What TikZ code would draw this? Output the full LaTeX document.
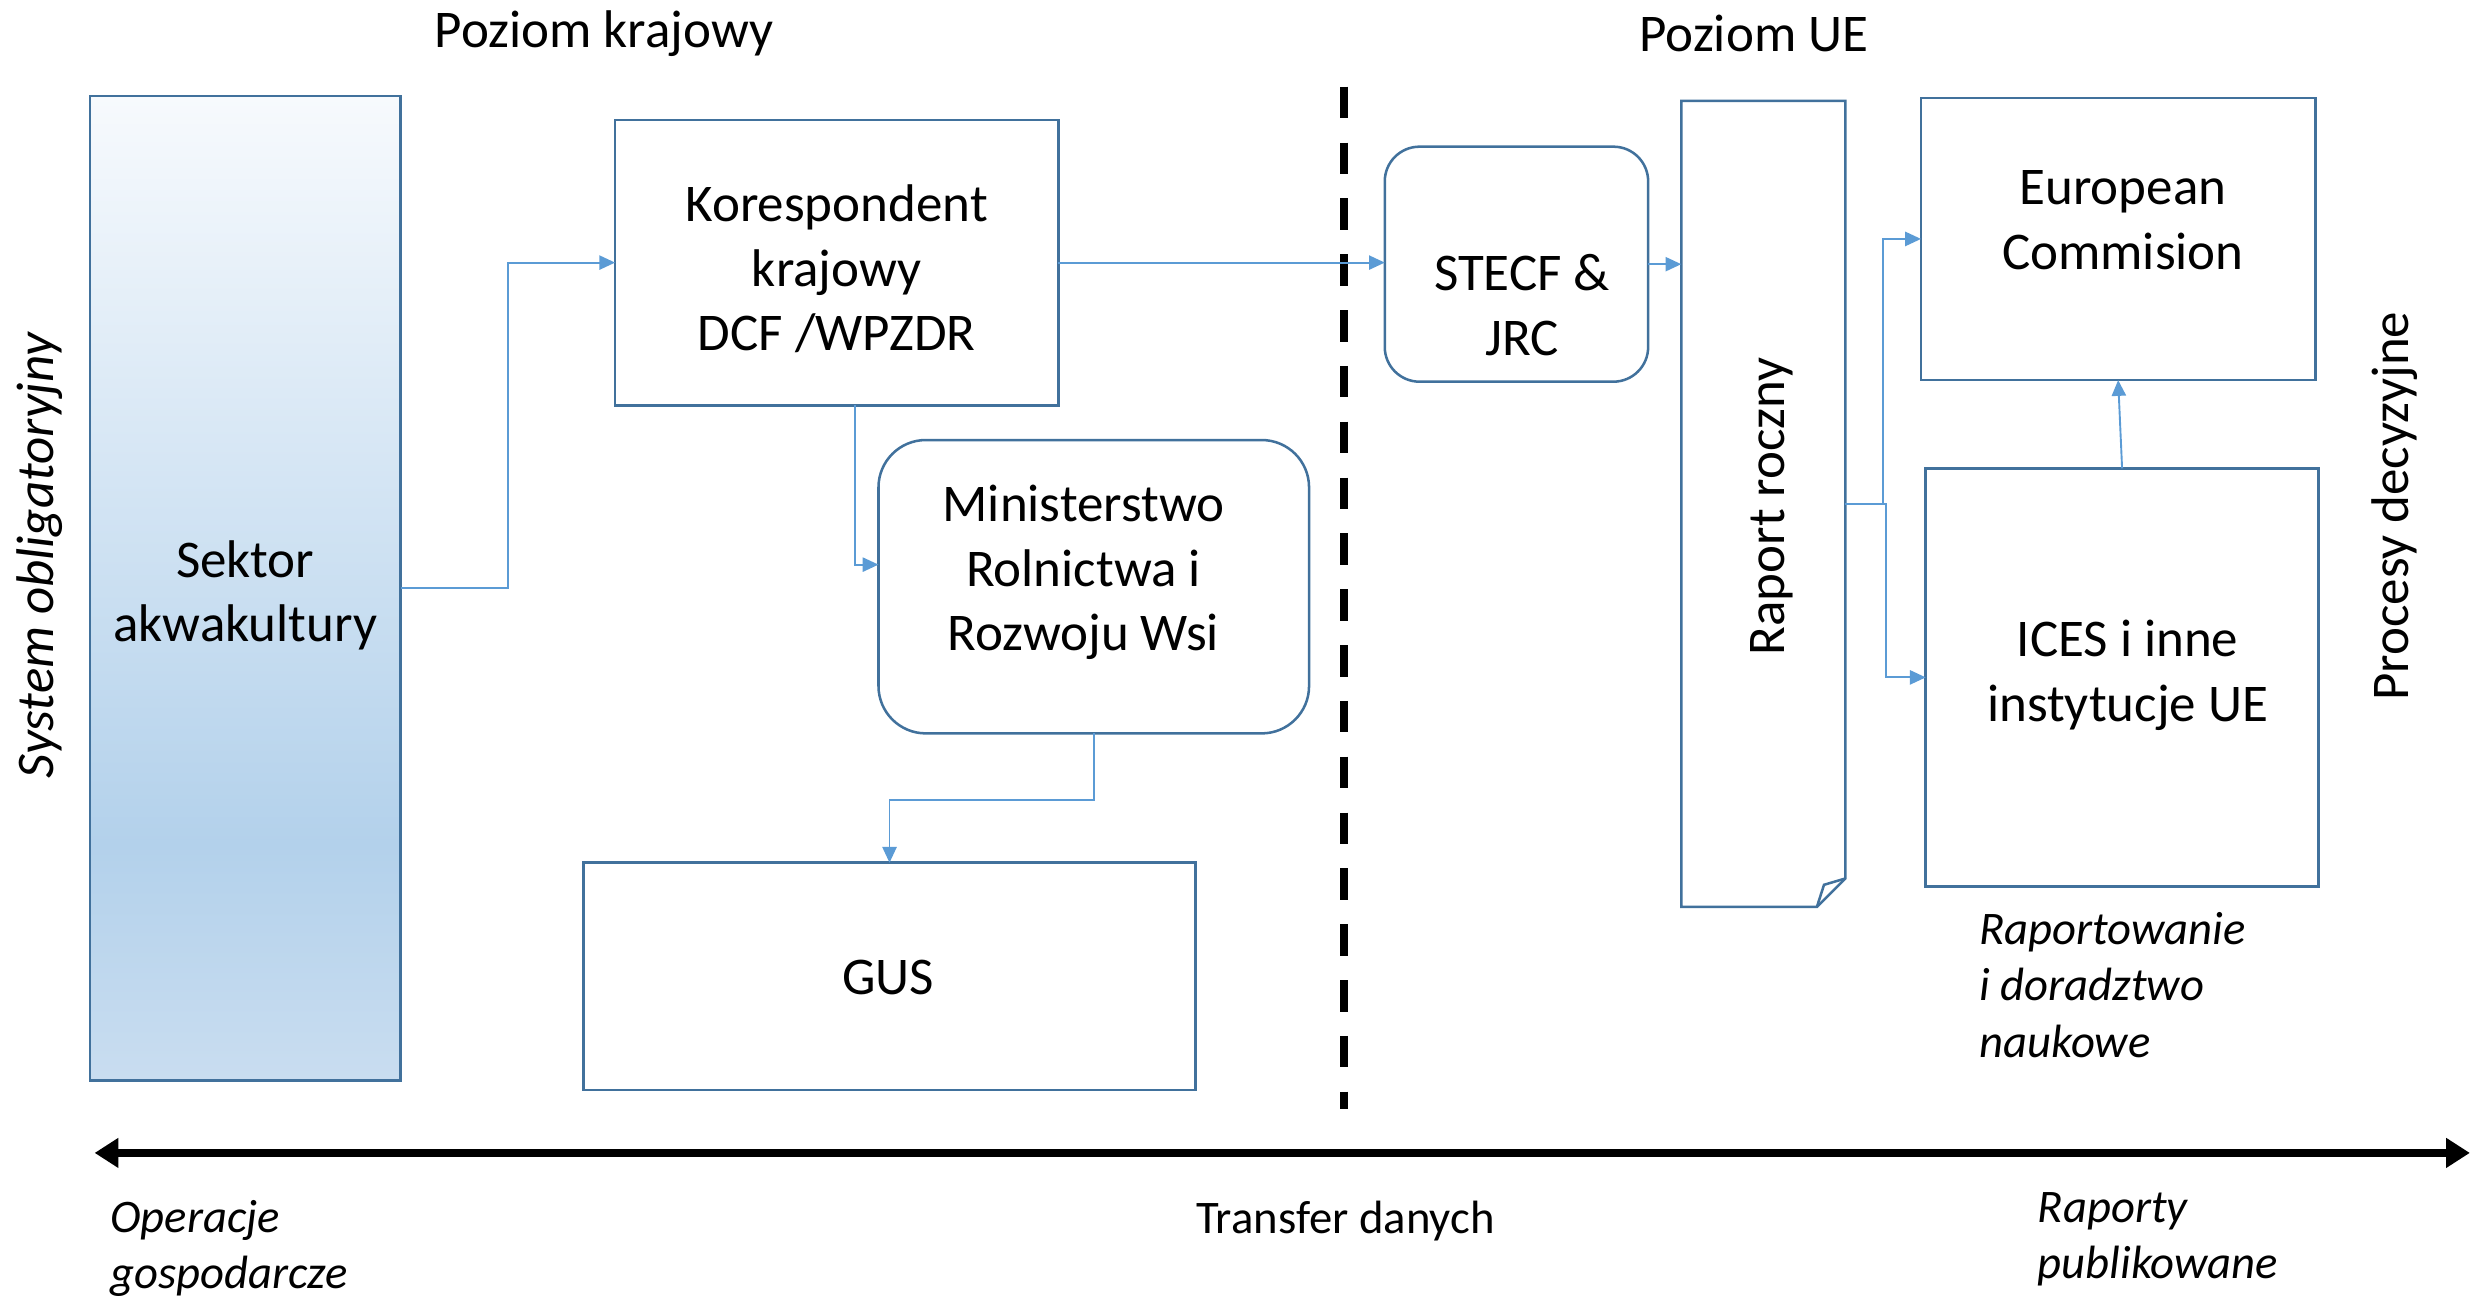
\documentclass[tikz,border=0pt]{standalone}
\usepackage{fontspec}
\setmainfont{Carlito}
\usetikzlibrary{arrows.meta,calc}
\definecolor{boxblue}{HTML}{41719C}
\definecolor{linkblue}{HTML}{5B9BD5}
\definecolor{sektop}{HTML}{F7FAFD}
\definecolor{sekmid}{HTML}{B3D1EB}
\definecolor{sekbot}{HTML}{C9DDF0}
\pgfdeclareverticalshading{sektorshade}{100bp}{color(0bp)=(sekbot); color(25bp)=(sekbot); color(37bp)=(sekmid); color(75bp)=(sektop); color(100bp)=(sektop)}
\begin{document}
\begin{tikzpicture}[x=0.5pt,y=-0.5pt,
 every node/.style={inner sep=0pt, outer sep=0pt},
 bigtxt/.style={font=\fontsize{16.8}{20.5}\selectfont, align=center},
 smalltxt/.style={font=\fontsize{14.8}{17.8}\selectfont\itshape, align=left},
 box/.style={draw=boxblue, line width=0.8pt, fill=white},
 rbox/.style={box, rounded corners=#1},
 conn/.style={draw=linkblue, line width=0.6pt, -{Triangle[length=5pt,width=4.5pt]}},
 divider/.style={line width=2.4pt, dash pattern=on 10pt off 7.7pt},
 axisarrow/.style={line width=2.8pt, {Triangle[length=7.5pt,width=9pt]}-{Triangle[length=7.5pt,width=9pt]}}
]
\useasboundingbox (0,0) rectangle (1568,824);

% titles
\node[bigtxt] (tkraj) at (383,21.5) {Poziom krajowy};
\node[bigtxt] (tue) at (1112,21.5) {Poziom UE};

% side labels
\node[bigtxt, font=\fontsize{16.8}{20.5}\selectfont\itshape, rotate=90] (sysobl) at (25,352) {System obligatoryjny};
\node[bigtxt, rotate=90] (procesy) at (1518,321) {Procesy decyzyjne};

% boxes
\node[draw=boxblue, line width=0.8pt, shade, shading=sektorshade, minimum width=98.5pt, minimum height=312pt] (sek) at (155.5,373) {};
\node[bigtxt] (sekt) at (155.5,377.5) {Sektor\\akwakultury};

\node[box, minimum width=140.5pt, minimum height=90.5pt] (kor) at (530.5,166.5) {};
\node[bigtxt] (kort) at (530.5,170.5) {Korespondent\\krajowy\\DCF /WPZDR};

\node[rbox=15pt, minimum width=136.5pt, minimum height=93pt] (min) at (693.5,372) {};
\node[bigtxt] (mint) at (687,363) {Ministerstwo\\Rolnictwa i\\Rozwoju Wsi};

\node[box, minimum width=194pt, minimum height=72pt] (gus) at (564,619) {};
\node[bigtxt] (gust) at (563,619.5) {GUS};

\node[rbox=11pt, minimum width=83.5pt, minimum height=74.5pt] (stecf) at (961.5,167.5) {};
\node[bigtxt] (stecft) at (965,193.5) {STECF \&\\JRC};

\node[minimum width=52pt, minimum height=255.5pt] (rap) at (1118,319.5) {};
\draw[box] (rap.north west) -- (rap.north east) -- ($(rap.south east)+(0,-18)$) -- ($(rap.south east)+(-18,0)$) -- (rap.south west) -- cycle;
\draw[draw=boxblue, line width=0.8pt] ($(rap.south east)+(0,-18)$) -- ($(rap.south east)+(-13.5,-14)$) -- ($(rap.south east)+(-18,0)$);
\node[bigtxt, rotate=90] (rapt) at (1123.5,321) {Raport roczny};

\node[box, minimum width=125pt, minimum height=89.5pt] (ec) at (1343,151.5) {};
\node[bigtxt] (ect) at (1346,139.5) {European\\Commision};

\node[box, minimum width=124.5pt, minimum height=132.5pt] (ices) at (1345.5,429.5) {};
\node[bigtxt] (icest) at (1349,428) {ICES i inne\\instytucje UE};

\node[smalltxt, anchor=west] (radv) at (1255,624.5) {Raportowanie\\i doradztwo\\naukowe};

% divider
\coordinate (dtop) at (852,55);
\coordinate (dbot) at (852,703);
\draw[divider] (dtop) -- (dbot);

% connectors
\draw[conn] (sek.east) -- ++(68,0) |- (kor.west);
\draw[conn] ($(kor.south)+(11.5,0)$) |- ($(min.west)+(0,-14)$);
\draw[conn] (min.south) -- ++(0,42) -| (gus.north);
\draw[conn] (kor.east) -- (kor.east -| stecf.west);
\draw[conn] (stecf.east) -- (stecf.east -| rap.west);
\draw[conn] (rap.east) -- ++(24,0) |- (ec.west);
\draw[conn] (rap.east) -- ++(26,0) |- (ices.west);
\draw[conn] (ices.north) -- (ec.south);

% bottom axis
\coordinate (aleft) at (60,731);
\coordinate (aright) at (1566,731);
\draw[axisarrow] (aleft) -- (aright);
\node[smalltxt, anchor=west] (oper) at (70,791.5) {Operacje\\gospodarcze};
\node[smalltxt, font=\fontsize{14.8}{17.8}\selectfont] (transf) at (853,774) {Transfer danych};
\node[smalltxt, anchor=west] (rappub) at (1292,786) {Raporty\\publikowane};
\end{tikzpicture}
\end{document}
